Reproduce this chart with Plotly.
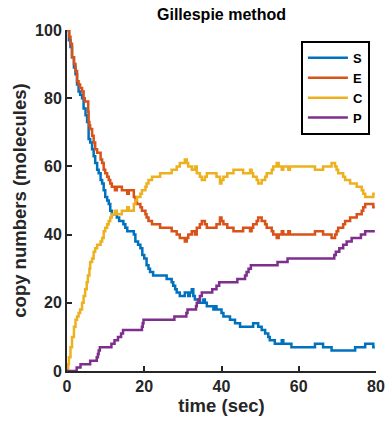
import plotly.graph_objects as go

# Gillespie trajectory of S + E <-> C -> P + E (step events: time in sec, copy number)
S_t = [0, 0.5, 0.9, 1.3, 1.8, 2.2, 2.6, 3.0, 3.4, 3.9, 4.3, 4.8, 5.2, 5.6, 6.0, 6.5, 6.9, 7.3, 7.8, 8.2,
       8.7, 9.1, 9.5, 9.9, 10.4, 10.8, 11.2, 11.6, 12.9, 13.5, 14.6, 15.1, 15.6, 17.3, 17.7, 18.4, 19.0, 19.5, 20.0, 20.6,
       21.1, 21.5, 22.3, 25.8, 27.1, 27.5, 28.0, 28.4, 29.2, 30.5, 31.4, 31.8, 32.3, 32.7, 33.1, 34.4, 35.3, 35.7, 36.2, 37.9,
       38.3, 38.7, 40.0, 40.5, 42.2, 43.5, 44.8, 48.2, 49.5, 50.4, 51.3, 52.1, 52.5, 53.8, 55.6, 56.0, 58.1, 64.2, 66.3, 68.5,
       74.6, 77.2, 79.3, 79.7]
S_v = [100, 97, 95, 92, 89, 87, 84, 82, 81, 80, 77, 75, 73, 68, 67, 65, 63, 61, 59, 58,
       56, 55, 53, 51, 50, 49, 47, 46, 45, 44, 43, 42, 41, 40, 38, 37, 36, 34, 33, 31,
       30, 29, 28, 27, 26, 25, 24, 23, 22, 23, 22, 23, 24, 22, 21, 20, 21, 20, 19, 18,
       19, 18, 17, 16, 15, 14, 13, 14, 13, 12, 11, 10, 9, 8, 9, 8, 7, 8, 7, 6,
       7, 8, 7, 7]

E_t = [0, 0.6, 0.9, 1.3, 1.8, 2.2, 2.6, 3.0, 3.4, 3.9, 4.3, 4.6, 5.5, 5.6, 5.8, 6.0, 6.5, 6.9, 7.3, 7.8,
       8.7, 9.1, 9.5, 9.9, 10.4, 10.8, 11.2, 11.6, 12.4, 12.9, 14.2, 15.6, 16.0, 17.3, 17.7, 18.1, 19.0, 19.4, 20.3, 20.6,
       21.1, 22.0, 24.1, 27.1, 28.4, 29.2, 30.5, 31.0, 31.4, 32.3, 33.1, 33.6, 34.4, 34.9, 35.7, 36.2, 38.7, 39.6, 40.0, 40.5,
       41.5, 43.1, 45.6, 47.4, 47.8, 48.2, 49.1, 49.5, 50.4, 51.3, 51.7, 53.0, 53.4, 54.3, 54.8, 55.6, 56.0, 57.3, 57.7, 64.2,
       66.3, 68.5, 69.4, 69.8, 70.2, 71.5, 72.0, 73.3, 75.0, 76.3, 76.7, 77.2, 79.3, 79.7]
E_v = [100, 98, 96, 92, 90, 88, 85, 84, 83, 82, 80, 79, 76, 73, 72, 71, 69, 67, 65, 64,
       62, 61, 59, 58, 57, 56, 55, 54, 53, 54, 53, 52, 53, 51, 50, 49, 48, 47, 46, 45,
       44, 43, 42, 41, 40, 39, 38, 39, 40, 41, 40, 42, 43, 44, 43, 42, 43, 45, 44, 43,
       42, 41, 42, 41, 42, 43, 44, 45, 44, 43, 42, 41, 40, 39, 40, 41, 40, 41, 40, 41,
       40, 39, 40, 41, 42, 43, 44, 45, 46, 47, 48, 49, 48, 48]

C_t = [0, 0.3, 0.5, 0.9, 1.3, 1.8, 2.2, 2.6, 3.0, 3.4, 3.9, 4.3, 4.7, 5.1, 5.4, 5.8, 6.0, 6.5, 6.9, 7.3,
       7.8, 8.7, 9.1, 9.5, 9.9, 10.4, 10.8, 11.2, 11.6, 12.4, 12.9, 14.2, 15.6, 16.0, 17.3, 17.7, 18.1, 19.0, 19.4, 20.3,
       20.6, 21.1, 22.0, 24.1, 27.1, 28.4, 29.2, 30.5, 31.0, 31.4, 32.3, 33.1, 33.6, 34.4, 34.9, 35.7, 36.2, 38.7, 39.6, 40.0,
       40.5, 41.5, 43.1, 45.6, 47.4, 47.8, 48.2, 49.1, 49.5, 50.4, 51.3, 51.7, 53.0, 53.4, 54.3, 54.8, 55.6, 56.0, 57.3, 57.7,
       64.2, 66.3, 68.5, 69.4, 69.8, 70.2, 71.5, 72.0, 73.3, 75.0, 76.3, 76.7, 77.2, 79.3, 79.7]
C_v = [0, 2, 4, 7, 10, 13, 15, 16, 17, 18, 20, 22, 24, 26, 28, 30, 32, 33, 35, 36,
       37, 38, 39, 41, 42, 43, 44, 45, 46, 47, 46, 47, 48, 47, 49, 50, 51, 52, 53, 54,
       55, 56, 57, 58, 59, 60, 61, 62, 61, 60, 59, 60, 58, 57, 56, 57, 58, 57, 55, 56,
       57, 58, 59, 58, 59, 58, 57, 56, 55, 56, 57, 58, 59, 60, 61, 60, 59, 60, 59, 60,
       59, 60, 61, 60, 59, 58, 57, 56, 55, 54, 53, 52, 51, 52, 52]

P_t = [0, 2.5, 3.5, 6.0, 7.7, 8.0, 8.2, 8.5, 11.5, 12.3, 13.2, 14.0, 14.5, 19.4, 19.6, 19.8, 27.8, 30.9, 31.2, 33.4,
       33.6, 34.0, 34.4, 34.9, 37.6, 38.7, 39.4, 44.1, 46.1, 46.5, 47.0, 47.6, 54.5, 57.1, 69.2, 69.6, 70.5, 71.5, 72.4, 73.7,
       76.1, 77.2, 79.7]
P_v = [0, 1, 2, 3, 4, 5, 6, 7, 8, 9, 10, 11, 12, 13, 14, 15, 16, 17, 18, 19,
       20, 21, 22, 23, 24, 25, 26, 27, 28, 29, 30, 31, 32, 33, 34, 35, 36, 37, 38, 39,
       40, 41, 41]

species = ["S", "E", "C", "P"]
colors = ["#0072BD", "#D95319", "#EDB120", "#7E2F8E"]
x_ticks = [0, 20, 40, 60, 80]
y_ticks = [0, 20, 40, 60, 80, 100]

FONT = "Liberation Sans, Arial, Helvetica, sans-serif"
INK = "#262626"

fig = go.Figure()
for name, t, v, c in zip(species, [S_t, E_t, C_t, P_t], [S_v, E_v, C_v, P_v], colors):
    fig.add_trace(go.Scatter(x=t, y=v, mode="lines", name=name,
                             line=dict(shape="hv", color=c, width=2.5)))

axis_common = dict(showgrid=False, zeroline=False, showline=True, linecolor=INK, linewidth=2,
                   ticks="inside", ticklen=5, tickwidth=1.5, tickcolor=INK, mirror=False,
                   automargin=False,
                   tickfont=dict(family=FONT, size=16, color=INK, weight="bold"))

fig.update_layout(
    width=386, height=424,
    margin=dict(l=67, r=10, t=30, b=53),
    paper_bgcolor="white", plot_bgcolor="white",
    font=dict(family=FONT, color=INK),
    title=dict(text="<b>Gillespie method</b>", x=0.5, xref="paper", xanchor="center",
               y=1 - 14 / 424, yanchor="middle", font=dict(size=16, color="black", family=FONT)),
    xaxis=dict(range=[0, 80], tickvals=x_ticks,
               title=dict(text="<b>time (sec)</b>", font=dict(size=18.5, family=FONT, color=INK), standoff=4),
               **axis_common),
    yaxis=dict(range=[0, 100], tickvals=y_ticks,
               title=dict(text="<b>copy numbers (molecules)</b>", font=dict(size=18.5, family=FONT, color=INK), standoff=4),
               **axis_common),
    legend=dict(x=0.757, y=0.968, xanchor="left", yanchor="top", bgcolor="white",
                bordercolor="black", borderwidth=2, itemwidth=40, tracegroupgap=0,
                font=dict(family=FONT, size=13, color="black", weight="bold")),
    showlegend=True,
)

fig.write_html("out.html")
